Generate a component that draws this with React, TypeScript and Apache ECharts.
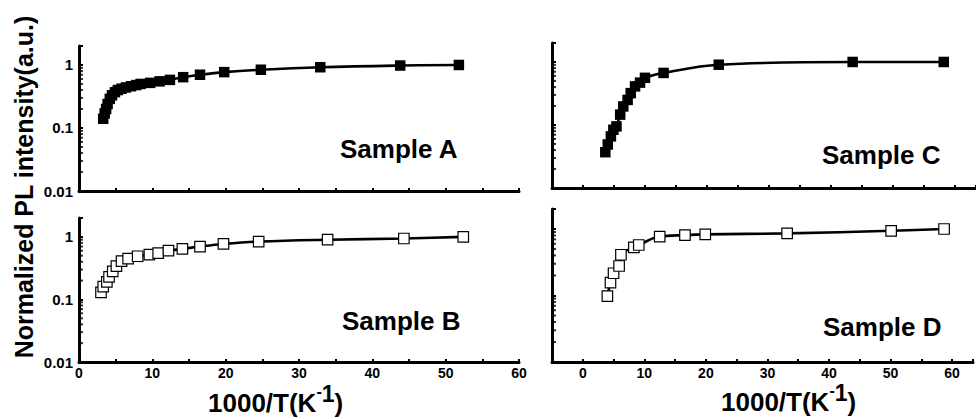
import React, { useEffect, useRef } from 'react';
import * as echarts from 'echarts';

// ---- Data ----
const sampleAX = [3.3, 3.5, 3.7, 3.9, 4.2, 4.5, 4.9, 5.3, 5.8, 6.4, 7.1, 7.8, 8.4, 9.7, 11.0, 12.4, 14.2, 16.5, 19.8, 24.8, 32.9, 43.8, 51.8];
const sampleAY = [0.14, 0.17, 0.2, 0.24, 0.29, 0.33, 0.37, 0.4, 0.42, 0.44, 0.46, 0.48, 0.5, 0.52, 0.55, 0.58, 0.64, 0.7, 0.77, 0.84, 0.92, 0.98, 1.0];

const sampleBX = [3.0, 3.3, 3.8, 4.1, 4.6, 5.1, 5.8, 6.7, 8.0, 9.6, 10.8, 12.2, 14.1, 16.5, 19.7, 24.5, 33.9, 44.3, 52.4];
const sampleBY = [0.13, 0.16, 0.19, 0.23, 0.28, 0.34, 0.41, 0.45, 0.49, 0.52, 0.55, 0.6, 0.64, 0.7, 0.77, 0.84, 0.9, 0.94, 1.0];

const sampleCX = [3.6, 4.0, 4.5, 4.9, 5.4, 6.0, 6.5, 7.2, 7.7, 8.4, 9.2, 10.0, 13.0, 21.9, 43.5, 58.2];
const sampleCY = [0.037, 0.049, 0.066, 0.084, 0.095, 0.146, 0.197, 0.25, 0.32, 0.41, 0.47, 0.56, 0.67, 0.905, 1.0, 1.0];

const sampleDX = [4.0, 4.5, 5.0, 5.9, 6.2, 8.3, 9.1, 12.5, 16.6, 19.9, 33.2, 50.1, 58.7];
const sampleDY = [0.098, 0.156, 0.216, 0.278, 0.41, 0.53, 0.575, 0.77, 0.81, 0.83, 0.86, 0.94, 1.0];

const yTickLabels = ['0.01', '0.1', '1'];
const xTickLabels = ['0', '10', '20', '30', '40', '50', '60'];
const minorTickValues = [0.02, 0.03, 0.04, 0.05, 0.06, 0.07, 0.08, 0.09, 0.2, 0.3, 0.4, 0.5, 0.6, 0.7, 0.8, 0.9, 2];
const sampleNames = ['Sample A', 'Sample C', 'Sample B', 'Sample D'];
const yTitle = 'Normalized PL intensity(a.u.)';
const xTitleMain = '1000/T(K';
const xTitleMinus = '-';
const xTitleOne = '1';
const xTitleClose = ')';

const FONT = "'Liberation Sans', Arial, Helvetica, sans-serif";

function measure(text: string, size: number): number {
  const c = document.createElement('canvas').getContext('2d');
  if (!c) return text.length * size * 0.55;
  c.font = `bold ${size}px "Liberation Sans", Arial, sans-serif`;
  return c.measureText(text).width;
}

export default function App() {
  const ref = useRef<HTMLDivElement>(null);

  useEffect(() => {
    if (!ref.current) return;
    const chart = echarts.init(ref.current, undefined, { renderer: 'svg' });

    const grids = [
      { left: 79, top: 46, width: 440, height: 145 },
      { left: 552, top: 43, width: 424, height: 145 },
      { left: 79, top: 218, width: 440, height: 144 },
      { left: 552, top: 209, width: 424, height: 153 },
    ];
    const isLeft = [true, false, true, false];
    const isBottom = [false, false, true, true];
    const seriesData = [
      { x: sampleAX, y: sampleAY, filled: true },
      { x: sampleCX, y: sampleCY, filled: true },
      { x: sampleBX, y: sampleBY, filled: false },
      { x: sampleDX, y: sampleDY, filled: false },
    ];

    const xAxes = grids.map((_, i) => ({
      type: 'value',
      gridIndex: i,
      min: isLeft[i] ? 0 : -5,
      max: isLeft[i] ? 60 : 63.4,
      interval: 5,
      axisLine: { show: true, onZero: false, lineStyle: { color: '#000', width: 3 } },
      axisTick: { show: true, inside: true, length: 3, lineStyle: { color: '#000', width: 2 } },
      splitLine: { show: false },
      axisLabel: {
        show: isBottom[i],
        margin: 4,
        color: '#000',
        fontSize: 14,
        fontWeight: 'bold',
        fontFamily: FONT,
        formatter: (v: number) => {
          const s = String(Math.round(v));
          return Math.abs(v - Math.round(v)) < 1e-6 && xTickLabels.includes(s) ? s : '';
        },
      },
    }));

    const yAxes = grids.map((_, i) => ({
      type: 'log',
      logBase: 10,
      gridIndex: i,
      min: 0.01,
      max: 2,
      axisLine: { show: true, onZero: false, lineStyle: { color: '#000', width: 3 } },
      axisTick: { show: true, inside: true, length: 4, lineStyle: { color: '#000', width: 2 } },
      splitLine: { show: false },
      axisLabel: {
        show: isLeft[i],
        margin: 6,
        color: '#000',
        fontSize: 15,
        fontWeight: 'bold',
        fontFamily: FONT,
        formatter: (v: number) => {
          const l = Math.log10(v);
          if (Math.abs(l - Math.round(l)) > 1e-6) return '';
          const idx = Math.round(l) + 2;
          return yTickLabels[idx] ?? '';
        },
      },
    }));

    const series: any[] = [];
    seriesData.forEach((s, i) => {
      series.push({
        type: 'line',
        xAxisIndex: i,
        yAxisIndex: i,
        data: s.x.map((x, k) => [x, s.y[k]]),
        smooth: 0.4,
        symbol: 'rect',
        symbolSize: 10.5,
        showAllSymbol: true,
        lineStyle: { color: '#000', width: 2.6 },
        itemStyle: {
          color: s.filled ? '#000' : '#fff',
          borderColor: '#000',
          borderWidth: s.filled ? 0 : 1.2,
        },
        z: 3,
      });
      series.push({
        type: 'scatter',
        xAxisIndex: i,
        yAxisIndex: i,
        data: minorTickValues.map((v) => [isLeft[i] ? 0 : -5, v]),
        symbol: 'rect',
        symbolSize: [3, 2],
        symbolOffset: [2.5, 0],
        itemStyle: { color: '#000' },
        silent: true,
        clip: false,
        z: 4,
      });
    });

    const sampleLabelPos = [
      { x: 340, y: 149 },
      { x: 822, y: 155 },
      { x: 342, y: 321 },
      { x: 823, y: 327 },
    ];

    const graphic: any[] = sampleNames.map((name, i) => ({
      type: 'text',
      x: sampleLabelPos[i].x,
      y: sampleLabelPos[i].y,
      style: {
        text: name,
        fontSize: 26,
        fontWeight: 'bold',
        fontFamily: FONT,
        fill: '#000',
        textAlign: 'left',
        textVerticalAlign: 'middle',
      },
    }));

    graphic.push({
      type: 'text',
      x: 24,
      y: 187,
      rotation: Math.PI / 2,
      style: {
        text: yTitle,
        fontSize: 25,
        fontWeight: 'bold',
        fontFamily: FONT,
        fill: '#000',
        textAlign: 'center',
        textVerticalAlign: 'middle',
      },
    });

    const mainSize = 26;
    const minusSize = 16;
    const oneSize = 23;
    const titles = [
      { x: 208, y: 403 },
      { x: 721, y: 402 },
    ];
    titles.forEach((t) => {
      const wMain = measure(xTitleMain, mainSize);
      const wMinus = measure(xTitleMinus, minusSize);
      const wOne = measure(xTitleOne, oneSize);
      const parts = [
        { text: xTitleMain, x: t.x, y: t.y, size: mainSize },
        { text: xTitleMinus, x: t.x + wMain, y: t.y - 12, size: minusSize },
        { text: xTitleOne, x: t.x + wMain + wMinus, y: t.y - 9, size: oneSize },
        { text: xTitleClose, x: t.x + wMain + wMinus + wOne, y: t.y, size: mainSize },
      ];
      parts.forEach((p) => {
        graphic.push({
          type: 'text',
          x: p.x,
          y: p.y,
          style: {
            text: p.text,
            fontSize: p.size,
            fontWeight: 'bold',
            fontFamily: FONT,
            fill: '#000',
            textAlign: 'left',
            textVerticalAlign: 'middle',
          },
        });
      });
    });

    chart.setOption({
      animation: false,
      backgroundColor: '#fff',
      grid: grids,
      xAxis: xAxes,
      yAxis: yAxes,
      series,
      graphic,
    });

    return () => chart.dispose();
  }, []);

  return (
    <div
      ref={ref}
      style={{ position: 'fixed', left: 0, top: 0, width: 976, height: 419, background: '#fff' }}
    />
  );
}
